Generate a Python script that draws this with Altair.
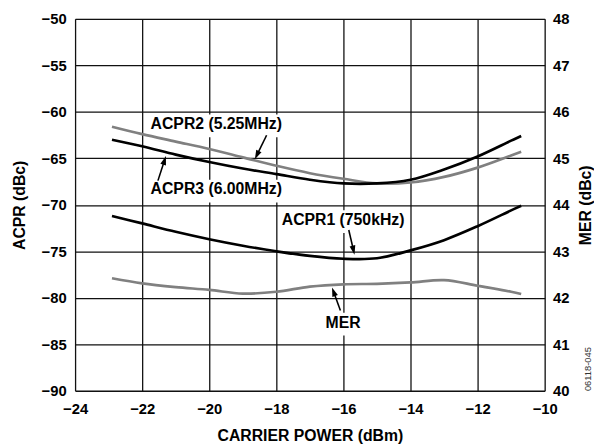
import math
import altair as alt
import pandas as pd

# ---- data ----
power = [-22.9, -22, -21, -20, -19, -18, -17, -16, -15, -14, -13, -12, -11, -10.7]
acpr2 = [-61.6, -62.4, -63.2, -64.0, -64.9, -65.8, -66.6, -67.2, -67.7, -67.6, -67.0, -66.0, -64.7, -64.3]
acpr3 = [-63.0, -63.7, -64.6, -65.4, -66.1, -66.7, -67.3, -67.7, -67.7, -67.3, -66.2, -64.8, -63.1, -62.6]
acpr1 = [-71.2, -72.0, -72.9, -73.7, -74.4, -75.0, -75.5, -75.8, -75.75, -74.9, -73.8, -72.3, -70.6, -70.1]
mer = [42.42, 42.31, 42.23, 42.17, 42.09, 42.13, 42.24, 42.29, 42.30, 42.33, 42.38, 42.26, 42.13, 42.08]

series_names = ["ACPR2", "ACPR3", "ACPR1"]
series_colors = ["#808080", "#000000", "#000000"]

x_ticks = [-24, -22, -20, -18, -16, -14, -12, -10]
acpr_ticks = [-90, -85, -80, -75, -70, -65, -60, -55, -50]
mer_ticks = [40, 41, 42, 43, 44, 45, 46, 47, 48]

# annotation labels (centre positions in data units) and arrows
label_text = ["ACPR2 (5.25MHz)", "ACPR3 (6.00MHz)", "ACPR1 (750kHz)", "MER"]
label_x = [-19.79, -19.79, -16.01, -16.01]
label_y = [-61.35, -68.36, -71.64, -82.68]
label_box_w = [138, 138, 128, 42]

arrow_x1 = [-18.29, -21.53, -15.84, -16.09]
arrow_y1 = [-62.52, -67.40, -72.71, -81.37]
arrow_x2 = [-18.64, -21.29, -15.67, -16.34]
arrow_y2 = [-65.10, -64.75, -75.36, -78.89]

# ---- layout ----
W, H = 476, 377
X0, X1 = -24, -10
Y0, Y1 = -90, -50
M0, M1 = 40, 48
pxx = W / (X1 - X0)
pxy = H / (Y1 - Y0)
FONT = "Liberation Sans"

xscale = alt.Scale(domain=[X0, X1], nice=False, zero=False)
yscale = alt.Scale(domain=[Y0, Y1], nice=False, zero=False)
mscale = alt.Scale(domain=[M0, M1], nice=False, zero=False)

x_axis = alt.Axis(values=x_ticks, title="CARRIER POWER (dBm)", grid=True, gridColor="#111111",
                  gridWidth=1.3, gridOpacity=1, ticks=False, domain=False, labelFlush=False,
                  labelOverlap=False, labelPadding=11, labelFontSize=15, labelFontWeight="bold",
                  labelColor="black", labelFont=FONT, titleFont=FONT, titleFontSize=16,
                  titleFontWeight="bold", titleColor="black", titlePadding=11, format="d")
y_axis = alt.Axis(values=acpr_ticks, title="ACPR (dBc)", grid=True, gridColor="#111111",
                  gridWidth=1.3, gridOpacity=1, ticks=False, domain=False, labelFlush=False,
                  labelOverlap=False, labelPadding=9, labelFontSize=15, labelFontWeight="bold",
                  labelColor="black", labelFont=FONT, titleFont=FONT, titleFontSize=16,
                  titleFontWeight="bold", titleColor="black", titlePadding=14, format="d")
m_axis = alt.Axis(values=mer_ticks, title="MER (dBc)", orient="right", grid=False, ticks=False,
                  domain=False, labelFlush=False, labelOverlap=False, labelPadding=8,
                  labelFontSize=15, labelFontWeight="bold", labelColor="black", labelFont=FONT,
                  titleFont=FONT, titleFontSize=16, titleFontWeight="bold", titleColor="black",
                  titleAngle=270, titlePadding=25, format="d")

# ---- tables ----
rows = []
for name, vals in zip(series_names, [acpr2, acpr3, acpr1]):
    for p, v in zip(power, vals):
        rows.append({"power": p, "value": v, "series": name})
df_acpr = pd.DataFrame(rows)
df_mer = pd.DataFrame({"power": power, "mer": mer})

df_lab = pd.DataFrame({"text": label_text, "x": label_x, "y": label_y})
df_box = pd.DataFrame({
    "bx1": [x - (w / 2) / pxx for x, w in zip(label_x, label_box_w)],
    "bx2": [x + (w / 2) / pxx for x, w in zip(label_x, label_box_w)],
    "by1": [y + 10 / pxy for y in label_y],
    "by2": [y - 13 / pxy for y in label_y],
})

shaft = []
heads = []
for xa, ya, xb, yb in zip(arrow_x1, arrow_y1, arrow_x2, arrow_y2):
    dxp = (xb - xa) * pxx
    dyp = -(yb - ya) * pxy
    L = math.hypot(dxp, dyp)
    f = max(0.0, (L - 6) / L)
    shaft.append({"x1": xa, "y1": ya, "x2": xa + (xb - xa) * f, "y2": ya + (yb - ya) * f})
    ang = math.degrees(math.atan2(dxp, -dyp)) % 360
    heads.append({"x": xb, "y": yb, "ang": ang})
df_shaft = pd.DataFrame(shaft)
df_head = pd.DataFrame(heads)

# ---- layers ----
boxes = alt.Chart(df_box).mark_rect(fill="white", stroke=None).encode(
    x=alt.X("bx1:Q", scale=xscale, axis=x_axis), x2="bx2:Q",
    y=alt.Y("by1:Q", scale=yscale, axis=y_axis), y2="by2:Q")

lines = alt.Chart(df_acpr).mark_line(strokeWidth=2.7, interpolate="catmull-rom").encode(
    x=alt.X("power:Q", scale=xscale),
    y=alt.Y("value:Q", scale=yscale),
    color=alt.Color("series:N", scale=alt.Scale(domain=series_names, range=series_colors), legend=None),
    detail="series:N")

arrows = alt.Chart(df_shaft).mark_rule(color="black", strokeWidth=1.6).encode(
    x=alt.X("x1:Q", scale=xscale), y=alt.Y("y1:Q", scale=yscale), x2="x2:Q", y2="y2:Q")

arrow_heads = alt.Chart(df_head).mark_point(
    shape="M0,0L-0.32,1L0.32,1Z", filled=True, color="black", opacity=1, size=340, strokeWidth=0
).encode(x=alt.X("x:Q", scale=xscale), y=alt.Y("y:Q", scale=yscale),
         angle=alt.Angle("ang:Q", scale=None))

labels = alt.Chart(df_lab).mark_text(font=FONT, fontSize=16, fontWeight="bold", color="black",
                                     align="center", baseline="middle").encode(
    x=alt.X("x:Q", scale=xscale), y=alt.Y("y:Q", scale=yscale), text="text:N")

code = alt.Chart(pd.DataFrame({"t": ["06118-045"]})).mark_text(
    font=FONT, fontSize=9.5, color="#333333", angle=270, align="center", baseline="middle"
).encode(x=alt.value(520), y=alt.value(355), text="t:N")

acpr_group = alt.layer(boxes, lines, arrows, arrow_heads, labels, code)

mer_line = alt.Chart(df_mer).mark_line(strokeWidth=2.7, color="#808080", interpolate="catmull-rom").encode(
    x=alt.X("power:Q", scale=xscale),
    y=alt.Y("mer:Q", scale=mscale, axis=m_axis))

chart = alt.layer(acpr_group, mer_line).resolve_scale(y="independent").properties(
    width=W, height=H,
    autosize=alt.AutoSizeParams(type="none"),
    padding={"left": 68, "top": 8, "right": 50, "bottom": 53},
).configure_view(stroke="black", strokeWidth=2).configure(background="white")

chart.save("out.html", embed_options={"renderer": "svg", "actions": False})
